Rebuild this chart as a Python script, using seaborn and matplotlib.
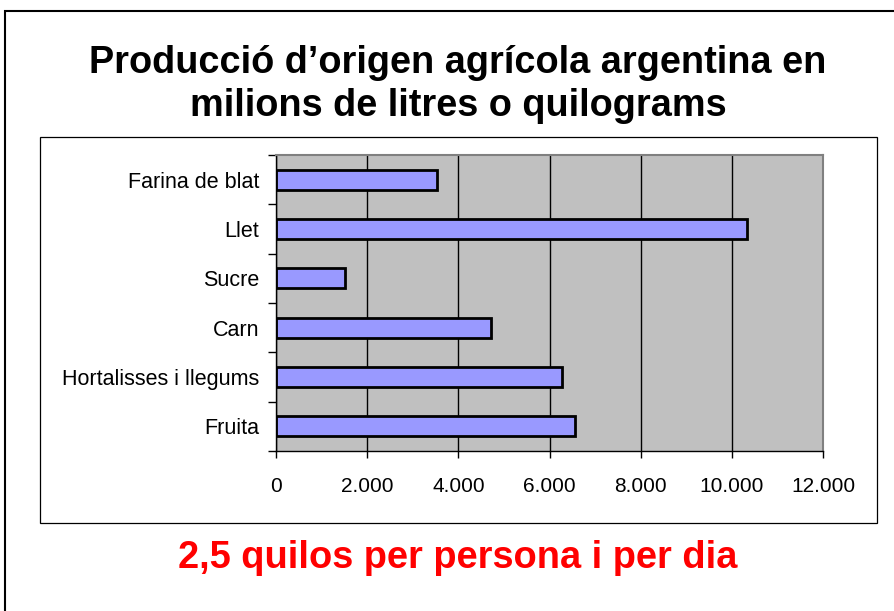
import matplotlib
matplotlib.use("Agg")
import matplotlib.pyplot as plt
import seaborn as sns
import pandas as pd
from matplotlib.ticker import FuncFormatter, FixedLocator
from matplotlib.patches import Rectangle

# data
categories = ["Farina de blat", "Llet", "Sucre", "Carn", "Hortalisses i llegums", "Fruita"]
values = [3540, 10330, 1510, 4720, 6270, 6550]
xticks = [0, 2000, 4000, 6000, 8000, 10000, 12000]

title = "Producció d’origen agrícola argentina en\nmilions de litres o quilograms"
subtitle = "2,5 quilos per persona i per dia"

sns.set_style("whitegrid", {"axes.facecolor": "#C0C0C0", "grid.color": "black",
                            "text.color": "black", "xtick.color": "black",
                            "ytick.color": "black"})
plt.rcParams["font.family"] = ["Liberation Sans", "DejaVu Sans"]

W, H = 895, 611
fig = plt.figure(figsize=(W / 100, H / 100), dpi=100)

# plot area
ax = fig.add_axes([276 / W, 1 - 451 / H, (823 - 276) / W, (451 - 155) / H])
df = pd.DataFrame({"cat": categories, "val": values})
sns.barplot(data=df, x="val", y="cat", orient="h", color="#9999FF",
            saturation=1, edgecolor="black", linewidth=2, width=0.4, ax=ax)

ax.set_xlim(0, 12000)
ax.set_ylim(5.5, -0.5)
ax.set_xticks(xticks)
ax.xaxis.set_major_formatter(FuncFormatter(lambda x, p: f"{int(x):,}".replace(",", ".")))
ax.set_xlabel("")
ax.set_ylabel("")

ax.grid(axis="x", color="black", lw=1)
ax.grid(axis="y", visible=False)

ax.tick_params(axis="x", which="major", bottom=True, direction="out", length=5,
               width=1, color="black", labelcolor="black", labelsize=15, pad=14)
ax.tick_params(axis="y", which="major", left=True, length=0, labelsize=15.5,
               labelcolor="black", pad=12)
ax.yaxis.set_minor_locator(FixedLocator([i - 0.5 for i in range(len(categories) + 1)]))
ax.tick_params(axis="y", which="minor", left=True, direction="out", length=6,
               width=1, color="black")

for s in ["top", "right"]:
    ax.spines[s].set_color("#808080")
    ax.spines[s].set_linewidth(1.5)
for s in ["left", "bottom"]:
    ax.spines[s].set_color("black")
    ax.spines[s].set_linewidth(1)

# frames
fig.add_artist(Rectangle((40 / W, 1 - 523 / H), 837 / W, 386 / H, transform=fig.transFigure,
                         fill=False, edgecolor="black", lw=0.9))
fig.add_artist(Rectangle((5 / W, -0.1), 1.2, 1 - 11 / H + 0.1, transform=fig.transFigure,
                         fill=False, edgecolor="black", lw=1.5))

cx = 458 / W
fig.text(cx, 1 - 73 / H, title.split("\n")[0], ha="center", va="baseline",
         fontsize=27.3, fontweight="bold", color="black")
fig.text(cx, 1 - 116 / H, title.split("\n")[1], ha="center", va="baseline",
         fontsize=27.3, fontweight="bold", color="black")
fig.text(cx, 1 - 568 / H, subtitle, ha="center", va="baseline",
         fontsize=27.4, fontweight="bold", color="#FF0000")

fig.savefig("out.png", dpi=100)
